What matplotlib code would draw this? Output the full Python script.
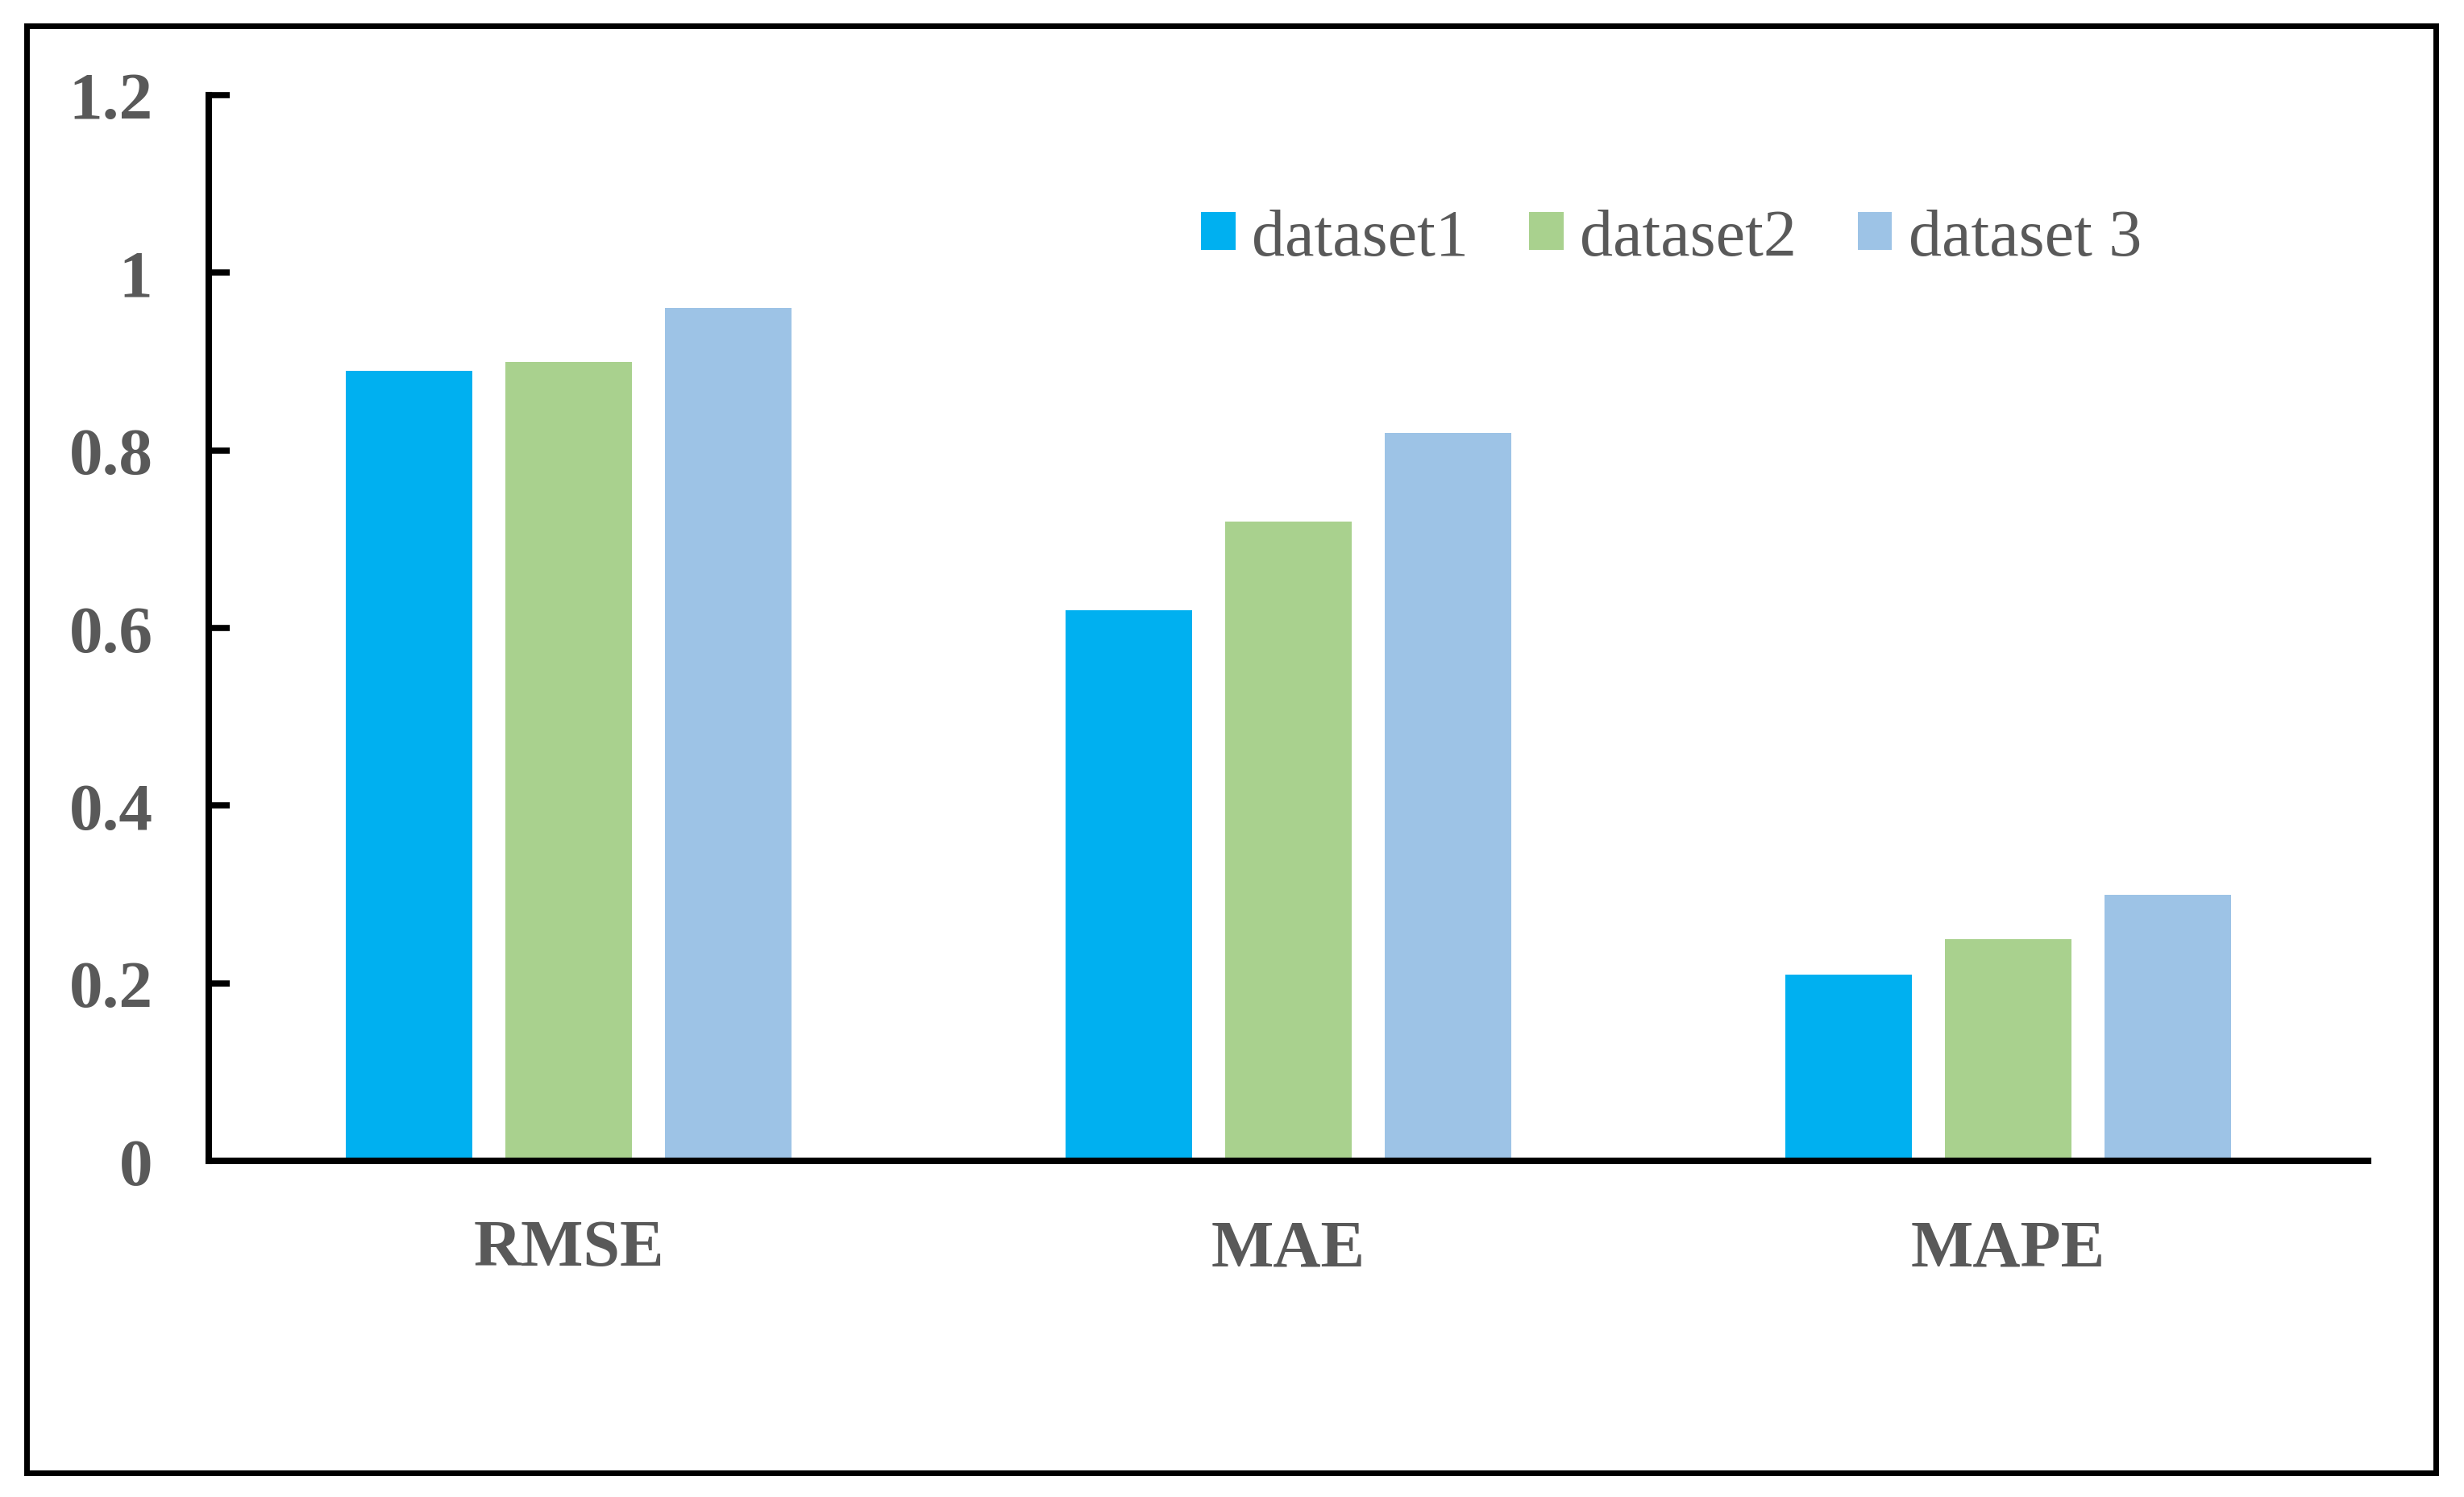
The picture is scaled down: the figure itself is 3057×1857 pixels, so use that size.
import matplotlib
matplotlib.use("Agg")
import matplotlib.pyplot as plt
from matplotlib.patches import Patch, Rectangle
import numpy as np

categories = ["RMSE", "MAE", "MAPE"]
series_names = ["dataset1", "dataset2", "dataset 3"]
dataset1 = [0.89, 0.62, 0.21]
dataset2 = [0.90, 0.72, 0.25]
dataset3 = [0.96, 0.82, 0.30]
yticks = [0, 0.2, 0.4, 0.6, 0.8, 1.0, 1.2]
ytick_labels = ["0", "0.2", "0.4", "0.6", "0.8", "1", "1.2"]

colors = ["#00B0F0", "#A9D18E", "#9DC3E6"]
text_color = "#595959"
serif = ["Liberation Serif", "DejaVu Serif"]

W, H = 3057, 1858
fig = plt.figure(figsize=(W / 100, H / 100), dpi=100)
ax = fig.add_axes([259 / W, 1 - 1441 / H, (2938 - 259) / W, (1441 - 119) / H])

x = np.arange(len(categories)) + 0.5
width = 0.175
step = 0.2216
for i, (vals, c) in enumerate(zip([dataset1, dataset2, dataset3], colors)):
    ax.bar(x + (i - 1) * step, vals, width=width, color=c, linewidth=0, zorder=2)

ax.set_xlim(0, 3)
ax.set_ylim(0, 1.2)
for s in ["top", "right"]:
    ax.spines[s].set_visible(False)
for s in ["left", "bottom"]:
    ax.spines[s].set_linewidth(5.8)
    ax.spines[s].set_color("black")
    ax.spines[s].set_zorder(3)

ax.set_yticks(yticks)
ax.set_yticklabels(ytick_labels, fontfamily=serif, fontweight="bold",
                   fontsize=60, color=text_color)
ax.tick_params(axis="y", direction="in", length=19, width=5.5, pad=50, color="black")
ax.set_xticks(x)
ax.set_xticklabels(categories, fontfamily=serif, fontweight="bold",
                   fontsize=59, color=text_color)
ax.tick_params(axis="x", length=0, pad=52)

handles = [Patch(facecolor=c, edgecolor="none") for c in colors]
fig.legend(handles, series_names, loc="center left",
           bbox_to_anchor=(1490 / W, 1 - 297 / H), ncol=3, frameon=False,
           prop={"family": serif, "size": 59}, labelcolor=text_color,
           handlelength=0.52, handleheight=0.5, handletextpad=0.25,
           columnspacing=0.92, borderpad=0, borderaxespad=0)

frame = Rectangle((33 / W, 1 - 1828 / H), (3022 - 33) / W, (1828 - 33) / H,
                  transform=fig.transFigure, fill=False, edgecolor="black",
                  linewidth=5, zorder=10)
fig.patches.append(frame)

fig.savefig("out.png", dpi=100, facecolor="white")
